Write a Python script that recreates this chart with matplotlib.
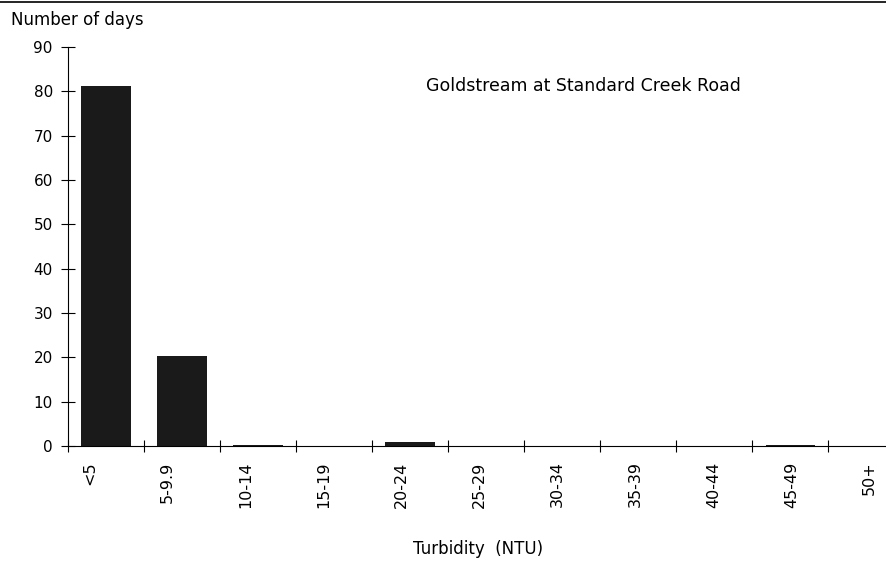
import numpy as np
import matplotlib.pyplot as plt
from matplotlib.lines import Line2D

categories = ['<5', '5-9.9', '10-14', '15-19', '20-24', '25-29',
              '30-34', '35-39', '40-44', '45-49', '50+']
days = [81.2, 20.2, 0.2, 0, 1.0, 0, 0, 0, 0, 0.3, 0]

plt.rcParams['font.family'] = ['DejaVu Sans']

fig = plt.figure(figsize=(8.87, 5.64), dpi=100)
ax = fig.add_axes([0.0767, 0.2092, 0.9256, 0.7075])

x = np.arange(len(categories)) + 0.5
ax.bar(x, days, width=0.65, color='#1a1a1a')

ax.set_xlim(0, 10.8)
ax.set_ylim(0, 90)
ax.set_yticks(np.arange(0, 91, 10))
ax.set_xticks(np.arange(0, 11), minor=False)
ax.set_xticklabels([])
# labels sit a little left of the bar centres in the original
lab_x = x - 0.22 + 0.026 * np.arange(len(categories))
ax.set_xticks(lab_x, minor=True)
ax.set_xticklabels(categories, minor=True, rotation=90, fontsize=11.5)
ax.tick_params(axis='x', which='minor', length=0, pad=11)
ax.tick_params(axis='x', which='major', direction='inout', length=8)
ax.tick_params(axis='y', direction='inout', length=10, labelsize=11, pad=6)

for s in ['top', 'right']:
    ax.spines[s].set_visible(False)

ax.set_xlabel('Turbidity  (NTU)', fontsize=12, labelpad=23)
fig.text(0.012, 0.955, 'Number of days', fontsize=12)
ax.text(0.436, 0.89, 'Goldstream at Standard Creek Road', transform=ax.transAxes,
        fontsize=12.5)

fig.add_artist(Line2D([0, 1], [0.996, 0.996], color='black', lw=1.2,
                      transform=fig.transFigure))

fig.savefig('out.png', dpi=100)
